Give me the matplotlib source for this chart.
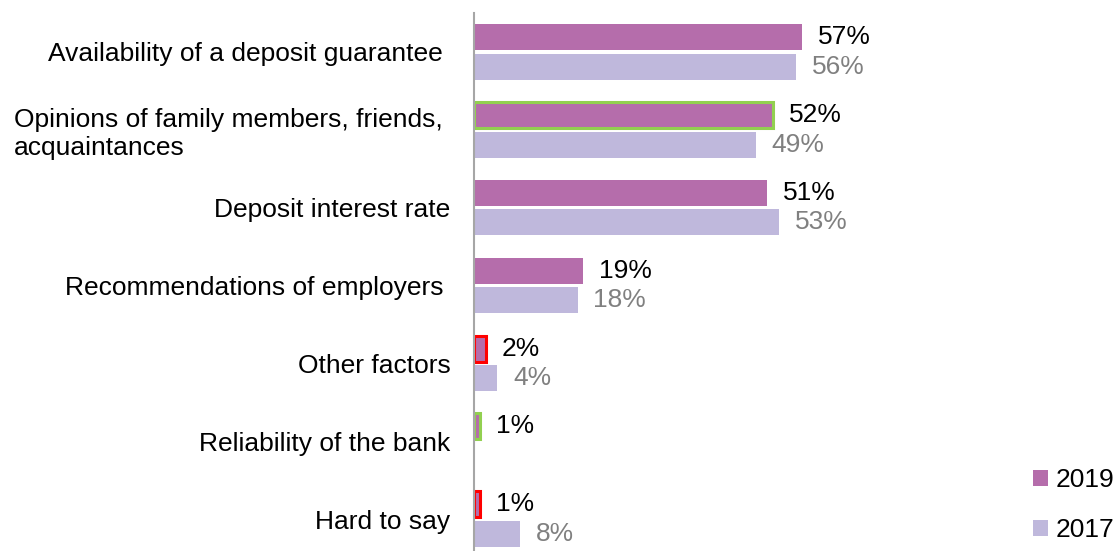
import numpy as np
import matplotlib.pyplot as plt
from matplotlib.patches import Patch

plt.rcParams['font.family'] = ['Liberation Sans', 'DejaVu Sans']

# Data
categories = ['Availability of a deposit guarantee ',
              'Opinions of family members, friends, \nacquaintances',
              'Deposit interest rate',
              'Recommendations of employers ',
              'Other factors',
              'Reliability of the bank',
              'Hard to say']
values_2019 = [57, 52, 51, 19, 2, 1, 1]
values_2017 = [56, 49, 53, 18, 4, np.nan, 8]
series_names = ['2019', '2017']

# outlines used in the original to highlight some bars
edges_2019 = ['none', '#92D050', 'none', 'none', '#FF0000', '#92D050', '#FF0000']

c2019 = '#B56DAB'
c2017 = '#BFB8DC'
fs = 19

fig = plt.figure(figsize=(11.19, 5.51), dpi=100)
ax = fig.add_axes([474 / 1119, 1 - 558 / 551, 575 / 1119, 545 / 551])

y = np.arange(len(categories))
h = 0.335
off = 0.19

ax.barh(y - off, values_2019, height=h, color=c2019,
        edgecolor=edges_2019, linewidth=2.2)
ax.barh(y + off, values_2017, height=h, color=c2017, linewidth=0)

# value labels
for i in range(len(categories)):
    v = values_2019[i]
    ax.annotate(f'{v}%', (v, i - off), xytext=(11.5, 0), textcoords='offset points',
                va='center', ha='left', fontsize=fs, color='black')
    v = values_2017[i]
    if not np.isnan(v):
        ax.annotate(f'{v:.0f}%', (v, i + off), xytext=(11.5, 0), textcoords='offset points',
                    va='center', ha='left', fontsize=fs, color='#808080')

ax.set_xlim(0, 100)
ax.set_ylim(len(categories) - 0.5, -0.5)
ax.set_yticks(y)
ax.set_yticklabels(categories, fontsize=fs)
for lbl in ax.get_yticklabels():
    lbl.set_multialignment('left')
ax.tick_params(axis='y', length=0, pad=17)
ax.set_xticks([])

for s in ['top', 'right', 'bottom']:
    ax.spines[s].set_visible(False)
ax.spines['left'].set_color('#A6A6A6')
ax.spines['left'].set_linewidth(1.5)

handles = [Patch(facecolor=c2019), Patch(facecolor=c2017)]
fig.legend(handles, series_names, loc='center left',
           bbox_to_anchor=(1033 / 1119, 1 - 505 / 551),
           frameon=False, fontsize=fs, handlelength=0.55, handleheight=0.55,
           handletextpad=0.3, labelspacing=0.98, borderaxespad=0, borderpad=0)

plt.savefig('out.png', dpi=100)
